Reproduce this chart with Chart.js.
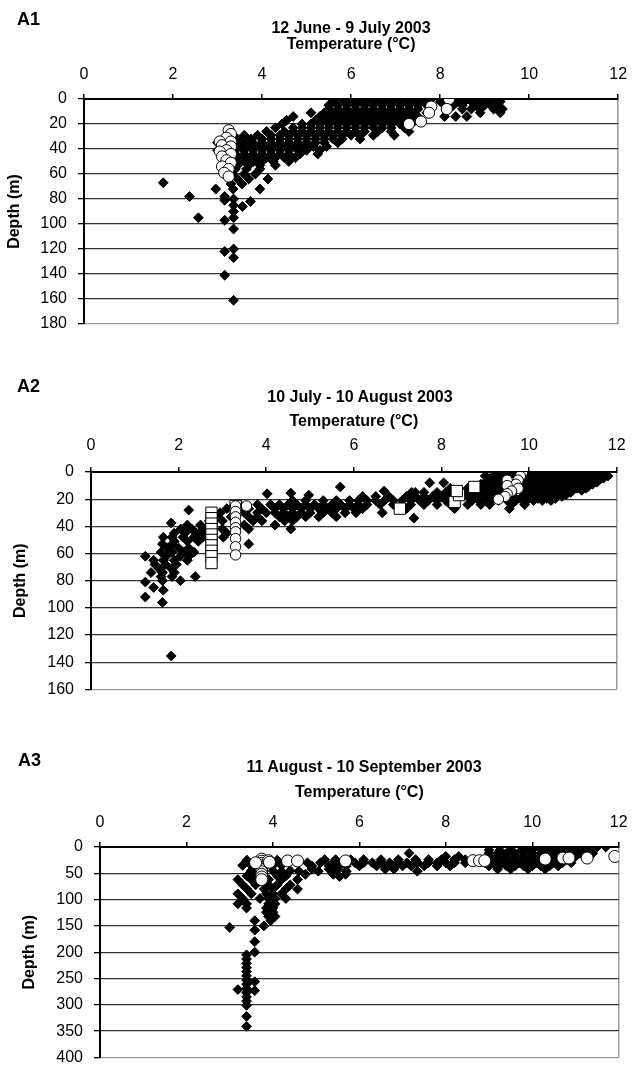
<!DOCTYPE html>
<html><head><meta charset="utf-8">
<script src="https://cdn.jsdelivr.net/npm/chart.js@4.4.1/dist/chart.umd.min.js"></script>
<style>
html,body{margin:0;padding:0;background:#fff;}
#wrap{position:relative;width:637px;height:1078px;overflow:hidden;background:#fff;}
canvas{position:absolute;left:0;}
.lbl{position:absolute;font-family:'Liberation Sans',Arial,sans-serif;font-weight:bold;color:#000;white-space:nowrap;line-height:1;}
.ttl{font-size:16px;transform:translate(-50%,-50%);}
.pan{font-size:18px;transform:translate(0,-50%);}
</style></head><body>
<div id="wrap">
<canvas id="c1" width="637" height="345" style="top:0px"></canvas>
<canvas id="c2" width="637" height="365" style="top:345px"></canvas>
<canvas id="c3" width="637" height="368" style="top:710px"></canvas>
<div class="lbl pan" style="left:17px;top:18.5px">A1</div>
<div class="lbl ttl" style="left:351px;top:28px">12 June - 9 July 2003</div>
<div class="lbl pan" style="left:17px;top:385.5px">A2</div>
<div class="lbl ttl" style="left:360px;top:397px">10 July - 10 August 2003</div>
<div class="lbl pan" style="left:18px;top:759.5px">A3</div>
<div class="lbl ttl" style="left:364px;top:767px">11 August - 10 September 2003</div>
</div>
<script>
const FONT = "'Liberation Sans', Arial, sans-serif";
const tempTicks = [0, 2, 4, 6, 8, 10, 12];
const a1DepthTicks = [0, 20, 40, 60, 80, 100, 120, 140, 160, 180];
const a2DepthTicks = [0, 20, 40, 60, 80, 100, 120, 140, 160];
const a3DepthTicks = [0, 50, 100, 150, 200, 250, 300, 350, 400];

// A1: diamonds by depth row [depth, [temperatures]]
const a1DiamondRows = [
  [0, [5.8,6.0,6.2,6.4,6.6,6.8,7.0,7.2,7.4,7.6,7.8,8.3,8.45,8.6,8.8,9.0,9.2]],
  [2, [5.6,5.9,6.1,6.3,6.5,6.7,6.9,7.1,7.3,7.5,7.7,8.0,8.4,8.55,8.7,8.9,9.1,9.35]],
  [5, [5.5,5.7,5.9,6.1,6.3,6.5,6.7,6.9,7.1,7.3,7.5,7.7,8.1,8.3,8.5,8.8,9.0,9.15,9.3]],
  [8, [5.5,5.7,5.9,6.1,6.3,6.5,6.7,6.9,7.1,7.3,7.5,8.2,8.5,8.7,8.9,9.2,9.4]],
  [11,[5.1,5.4,5.6,5.8,6.0,6.2,6.4,6.6,6.8,7.0,7.2,7.4,7.7,8.9,9.35]],
  [14,[4.7,5.3,5.5,5.7,5.9,6.1,6.3,6.5,6.7,6.9,7.1,7.3,7.5,8.1,8.35,8.6]],
  [17,[4.55,5.2,5.4,5.6,5.8,6.0,6.2,6.4,6.6,6.8,7.0,7.2,7.45]],
  [20,[4.45,4.9,5.1,5.3,5.5,5.7,5.9,6.1,6.3,6.5,6.7,6.9,7.1,7.35]],
  [23,[4.3,4.7,4.9,5.1,5.3,5.5,5.7,5.9,6.1,6.3,6.5,6.7,6.9,7.2]],
  [26,[4.1,4.5,4.7,4.9,5.1,5.3,5.5,5.7,5.9,6.1,6.3,6.6,6.9,7.3]],
  [29,[3.6,3.9,4.2,4.4,4.6,4.8,5.0,5.2,5.4,5.6,5.8,6.0,6.2,6.5,6.97]],
  [32,[3.45,3.75,4.0,4.2,4.4,4.6,4.8,5.0,5.2,5.4,5.6,5.8,6.2]],
  [35,[3.0,3.4,3.6,3.8,4.0,4.2,4.4,4.6,4.8,5.0,5.2,5.4,5.7]],
  [38,[3.35,3.55,3.75,3.95,4.15,4.35,4.55,4.75,4.95,5.15,5.45]],
  [41,[3.0,3.4,3.6,3.8,4.0,4.2,4.4,4.6,4.8,5.0,5.3]],
  [44,[3.4,3.6,3.8,4.0,4.2,4.4,4.6,4.85,5.25]],
  [47,[3.45,3.65,3.9,4.1,4.3,4.5,4.75]],
  [50,[3.4,3.6,3.8,4.0,4.25,4.6]],
  [53,[3.45,3.7,3.95,4.3]],
  [56,[3.4,3.65,3.95]],
  [60,[3.35,3.6,3.85]],
  [64,[3.45,3.7,4.13]],
  [68,[3.3,3.55]],
  [72,[2.96,3.35,3.95]]
];
const a1DiamondExtra = [[1.78,67],[2.37,78],[2.57,95],[3.16,78],[3.16,81],[3.36,80],[3.36,85],[3.56,86],[3.74,82],[3.36,90],[3.36,95],[3.16,97],[3.36,104],[3.16,122],[3.36,120],[3.36,127],[3.16,141],[3.36,161]];
const a1Circles = [[3.25,25],[3.3,28],[3.2,31],[3.3,34],[3.05,34],[3.1,37],[3.3,38],[3.2,41],[3.05,42],[3.3,44],[3.1,46],[3.2,49],[3.3,51],[3.1,54],[3.25,56],[3.15,59],[3.25,62],[8.2,0],[8.15,8],[7.8,6],[7.75,11],[7.57,18],[7.3,20]];

// A2
const a2DiamondRows = [
  [0, [9.3,9.55,9.75,10.0,10.2,10.4,10.6,10.8,11.0,11.2,11.4,11.6,11.75]],
  [1.5,[9.4,9.9,10.1,10.3,10.5,10.7,10.9,11.1,11.3,11.5,11.7]],
  [3, [9.0,9.2,9.45,9.7,10.0,10.2,10.4,10.6,10.8,11.0,11.2,11.4,11.6,11.8]],
  [4.5,[9.1,9.35,9.9,10.1,10.3,10.5,10.7,10.9,11.1,11.3,11.5,11.7]],
  [6, [9.1,9.3,10.0,10.2,10.4,10.6,10.8,11.0,11.2,11.4,11.6]],
  [7.5,[9.0,9.2,9.9,10.1,10.3,10.5,10.7,10.9,11.1,11.3,11.55]],
  [9, [8.9,9.1,9.3,10.0,10.2,10.4,10.6,10.8,11.0,11.2,11.45]],
  [10.5,[9.0,9.2,9.95,10.15,10.35,10.55,10.75,10.95,11.15,11.35]],
  [12,[8.2,8.6,8.9,9.1,9.3,9.9,10.1,10.3,10.5,10.7,10.9,11.1,11.3]],
  [13.5,[8.7,9.0,9.3,9.95,10.2,10.4,10.6,10.8,11.0,11.2]],
  [15,[7.4,7.6,7.9,8.1,8.6,8.8,9.0,9.2,9.4,9.9,10.1,10.3,10.5,10.7,10.95]],
  [16.5,[8.7,8.9,9.1,9.3,9.55,9.95,10.15,10.4,10.6,10.85]],
  [18,[6.2,6.5,6.8,7.2,7.4,7.6,7.8,8.0,8.2,8.6,8.8,9.0,9.2,9.45,9.65,9.85,10.05,10.25,10.5,10.75]],
  [19.5,[8.8,9.0,9.2,9.6,9.8,10.0,10.2,10.4,10.6]],
  [21,[4.6,4.9,5.3,5.6,5.9,6.1,6.3,6.5,6.7,6.9,7.1,7.3,7.5,7.7,7.9,8.1,8.3,8.7,8.9,9.1,9.3,9.5,9.7,9.9,10.1,10.3,10.5]],
  [24,[3.4,3.8,4.1,4.3,4.5,4.7,4.9,5.1,5.3,5.5,5.7,5.9,6.1,6.3,6.6,6.9,7.3,7.6,7.9,8.2,8.6,8.9,9.1,9.6,9.9]],
  [27,[3.1,3.6,3.9,4.2,4.4,4.6,4.8,5.0,5.2,5.4,5.6,5.8,6.0,6.2,7.2,8.3,9.55]],
  [30,[2.95,3.5,3.8,4.0,4.2,4.4,4.6,4.8,5.0,5.3,5.5,5.8,6.05,6.65]],
  [33,[2.85,3.2,3.6,3.8,4.3,4.5,4.7,4.9,5.2,5.6]],
  [36,[2.7,3.0,3.7,3.9,4.42,4.6]],
  [39,[2.2,2.5,3.5,4.2]],
  [42,[2.05,2.3,2.55,3.0,3.6,4.56]],
  [45,[1.9,2.15,2.4,2.6,3.1]],
  [48,[1.65,1.85,2.1,2.35,2.55,3.02]],
  [51,[1.9,2.2,2.45]],
  [53,[1.63,1.86,3.6]],
  [56,[1.75,2.0,2.23]],
  [59,[1.6,1.85,2.1,2.35]],
  [62,[1.24,1.72,2.04,2.23]],
  [65,[1.43,1.65,1.9,2.2]],
  [68,[1.46,1.7,1.95]],
  [71,[1.55,1.83]],
  [74,[1.37,1.63,1.9]],
  [77,[1.6,1.85,2.38]],
  [80,[1.63,2.04]]
];
const a2DiamondExtra = [[1.24,81],[1.43,85],[1.65,87],[1.63,96],[1.24,92],[1.83,135.4],[5.69,11],[8.05,8],[7.73,8],[2.23,28],[1.83,37.5],[7.37,34],[4.02,16],[4.56,15.5],[4.97,17],[6.69,14],[7.32,15]];
const a2Squares = [[2.75,30],[2.75,34],[2.75,38],[2.75,42],[2.75,46],[2.75,50],[2.75,54],[2.75,58],[2.75,62],[2.75,67],[3.3,25],[3.3,28],[7.05,27],[8.3,22],[8.4,17],[8.35,14],[8.75,11]];
const a2Circles = [[3.3,25],[3.55,25],[3.3,29],[3.3,33],[3.3,37],[3.3,41],[3.3,44],[3.3,49],[3.3,55],[3.3,61],[9.85,0],[9.8,3],[9.75,6],[9.5,6],[9.7,9],[9.5,10],[9.75,12],[9.6,14],[9.5,16],[9.45,18],[9.3,20]];

// A3
const a3DiamondRows = [
  [0, [9.9,10.15,10.4,10.6,10.85,11.05,11.3,11.5,11.7]],
  [6, [9.0,9.25,9.5,9.75,10.0,10.25,10.5,10.75,11.0,11.2]],
  [12,[7.15,9.0,9.2,9.4,9.6,9.8,10.0,10.2,10.4,10.6,10.85,11.1,11.4]],
  [18,[8.0,8.3,9.0,9.2,9.4,9.6,9.8,10.0,10.2,10.4,10.6,10.8,11.0]],
  [24,[5.2,5.45,5.8,6.1,6.5,6.9,7.3,7.6,7.9,8.2,8.45,9.0,9.2,9.4,9.6,9.8,10.0,10.2,10.4,10.6,10.8]],
  [30,[4.8,5.1,5.4,5.6,5.9,6.1,6.3,6.5,6.7,6.9,7.1,7.35,7.6,7.8,8.0,8.2,8.45,8.9,9.1,9.3,9.5,9.7,9.9,10.1,10.3,10.5,10.7,10.9]],
  [36,[4.9,5.3,5.5,5.7,6.0,6.4,6.6,6.8,7.0,7.2,7.5,7.8,8.1,9.0,9.2,9.4,9.6,9.8,10.0,10.2,10.4,10.6]],
  [42,[4.9,5.3,5.5,6.6,6.8,9.2,9.5,9.9,10.3]],
  [46,[4.2,4.6,5.05,5.7,7.34]],
  [52,[4.75,5.4,5.68]],
  [56,[5.54]],
  [25,[3.4,4.1,4.3]],
  [35,[3.3,3.5,4.0,4.2]],
  [45,[3.5,4.0,4.4]],
  [55,[3.4,3.6,4.1,4.3]],
  [62,[3.19,3.5,3.9,4.2,4.57]],
  [72,[3.3,3.6,3.9,4.1,4.4]],
  [80,[3.4,3.8,4.0,4.3,4.57]],
  [89,[3.19,3.5,3.85,4.0,4.2]],
  [98,[3.3,3.7,3.9,4.05,4.3]],
  [108,[3.19,3.39,3.9,4.05]],
  [116,[3.39,3.85,4.0]],
  [124,[3.85,4.0]],
  [132,[3.9,4.05]],
  [140,[3.58,3.95]],
  [150,[3.79]]
];
const a3DiamondExtra = [[3.0,153],[3.58,158],[3.58,180],[3.58,200],[3.39,205],[3.39,213],[3.39,221],[3.39,229],[3.39,237],[3.39,245],[3.39,253],[3.39,261],[3.39,269],[3.39,277],[3.39,285],[3.39,293],[3.39,301],[3.19,271],[3.58,256],[3.58,273],[3.39,322],[3.39,341]];
const a3Circles = [[3.74,23],[3.74,27],[3.74,31],[3.74,35],[3.74,39],[3.74,43],[3.74,47],[3.74,52],[3.74,57],[3.74,62],[3.6,30],[3.9,26],[3.92,29],[4.34,26.5],[4.57,26.5],[5.68,26.5],[8.63,26],[8.78,26],[8.9,26],[10.3,23],[10.71,21],[10.85,21],[11.27,21],[11.91,18]];

function fromRows(rows){ const out=[]; rows.forEach(r=>r[1].forEach(t=>out.push({x:t,y:r[0]}))); return out; }
function fromPairs(list){ return list.map(p=>({x:p[0],y:p[1]})); }

function diamondSet(rows, extra){
  return {label:'diamond', data: fromRows(rows).concat(fromPairs(extra)), pointStyle:'rectRot', pointRadius:4.9,
    backgroundColor:'#000', borderColor:'#000', borderWidth:1, order:3};
}
function circleSet(list, r){
  return {label:'circle', data: fromPairs(list), pointStyle:'circle', pointRadius:r,
    backgroundColor:'#fff', borderColor:'#000', borderWidth:1, order:1};
}
function squareSet(list){
  return {label:'square', data: fromPairs(list), pointStyle:'rect', pointRadius:8,
    backgroundColor:'#fff', borderColor:'#000', borderWidth:1, order:2};
}

function makePanel(id, cfg){
  new Chart(document.getElementById(id), {
    type:'scatter',
    data:{datasets: cfg.datasets},
    options:{
      responsive:false, animation:false, events:[],
      layout:{padding:{left:0, top:0, right:cfg.padRight, bottom:cfg.padBottom}},
      plugins:{legend:{display:false}, tooltip:{enabled:false}, title:{display:false}},
      scales:{
        x:{type:'linear', position:'top', min:0, max:12,
          afterBuildTicks:s=>{ s.ticks = tempTicks.map(v=>({value:v})); },
          afterFit:s=>{ s.height = cfg.xH; },
          ticks:{font:{family:FONT, size:16}, color:'#000', padding:cfg.xTickPad, maxRotation:0, autoSkip:false},
          grid:{drawOnChartArea:true, color:c=>(c.index===tempTicks.length-1 ? '#9a9a9a' : 'rgba(0,0,0,0)'),
                tickColor:'#000', tickLength:5, lineWidth:1.5},
          border:{display:true, color:'#000', width:2},
          title:{display:true, text:'Temperature (°C)', font:{family:FONT, size:16, weight:'bold'}, color:'#000',
                 padding:{top:cfg.xTitlePad, bottom:0}}
        },
        y:{type:'linear', reverse:true, min:0, max:cfg.yTicks[cfg.yTicks.length-1],
          afterBuildTicks:s=>{ s.ticks = cfg.yTicks.map(v=>({value:v})); },
          afterFit:s=>{ s.width = cfg.yW; },
          ticks:{font:{family:FONT, size:16}, color:'#000', padding:11, autoSkip:false},
          grid:{color:c=>(c.index===cfg.yTicks.length-1 ? '#9a9a9a' : '#333'), tickColor:'#000', tickLength:6, lineWidth:1.3},
          border:{display:true, color:'#000', width:2},
          title:{display:true, text:'Depth (m)', font:{family:FONT, size:16, weight:'bold'}, color:'#000',
                 padding:{top:cfg.yTitlePad, bottom:0}}
        }
      }
    }
  });
}

makePanel('c1', {
  datasets:[circleSet(a1Circles, 5.6), diamondSet(a1DiamondRows, a1DiamondExtra)],
  yTicks:a1DepthTicks, xH:99, yW:84, padRight:18, padBottom:21, xTitlePad:35.4, xTickPad:9.9, yTitlePad:5
});
makePanel('c2', {
  datasets:[circleSet(a2Circles, 5.2), squareSet(a2Squares), diamondSet(a2DiamondRows, a2DiamondExtra)],
  yTicks:a2DepthTicks, xH:127, yW:91, padRight:8, padBottom:12, xTitlePad:67.1, xTickPad:11.4, yTitlePad:11.4
});
makePanel('c3', {
  datasets:[circleSet(a3Circles, 6), diamondSet(a3DiamondRows, a3DiamondExtra)],
  yTicks:a3DepthTicks, xH:137, yW:100, padRight:8, padBottom:8, xTitlePad:73.4, xTickPad:9.4, yTitlePad:20.4
});
</script>
</body></html>
